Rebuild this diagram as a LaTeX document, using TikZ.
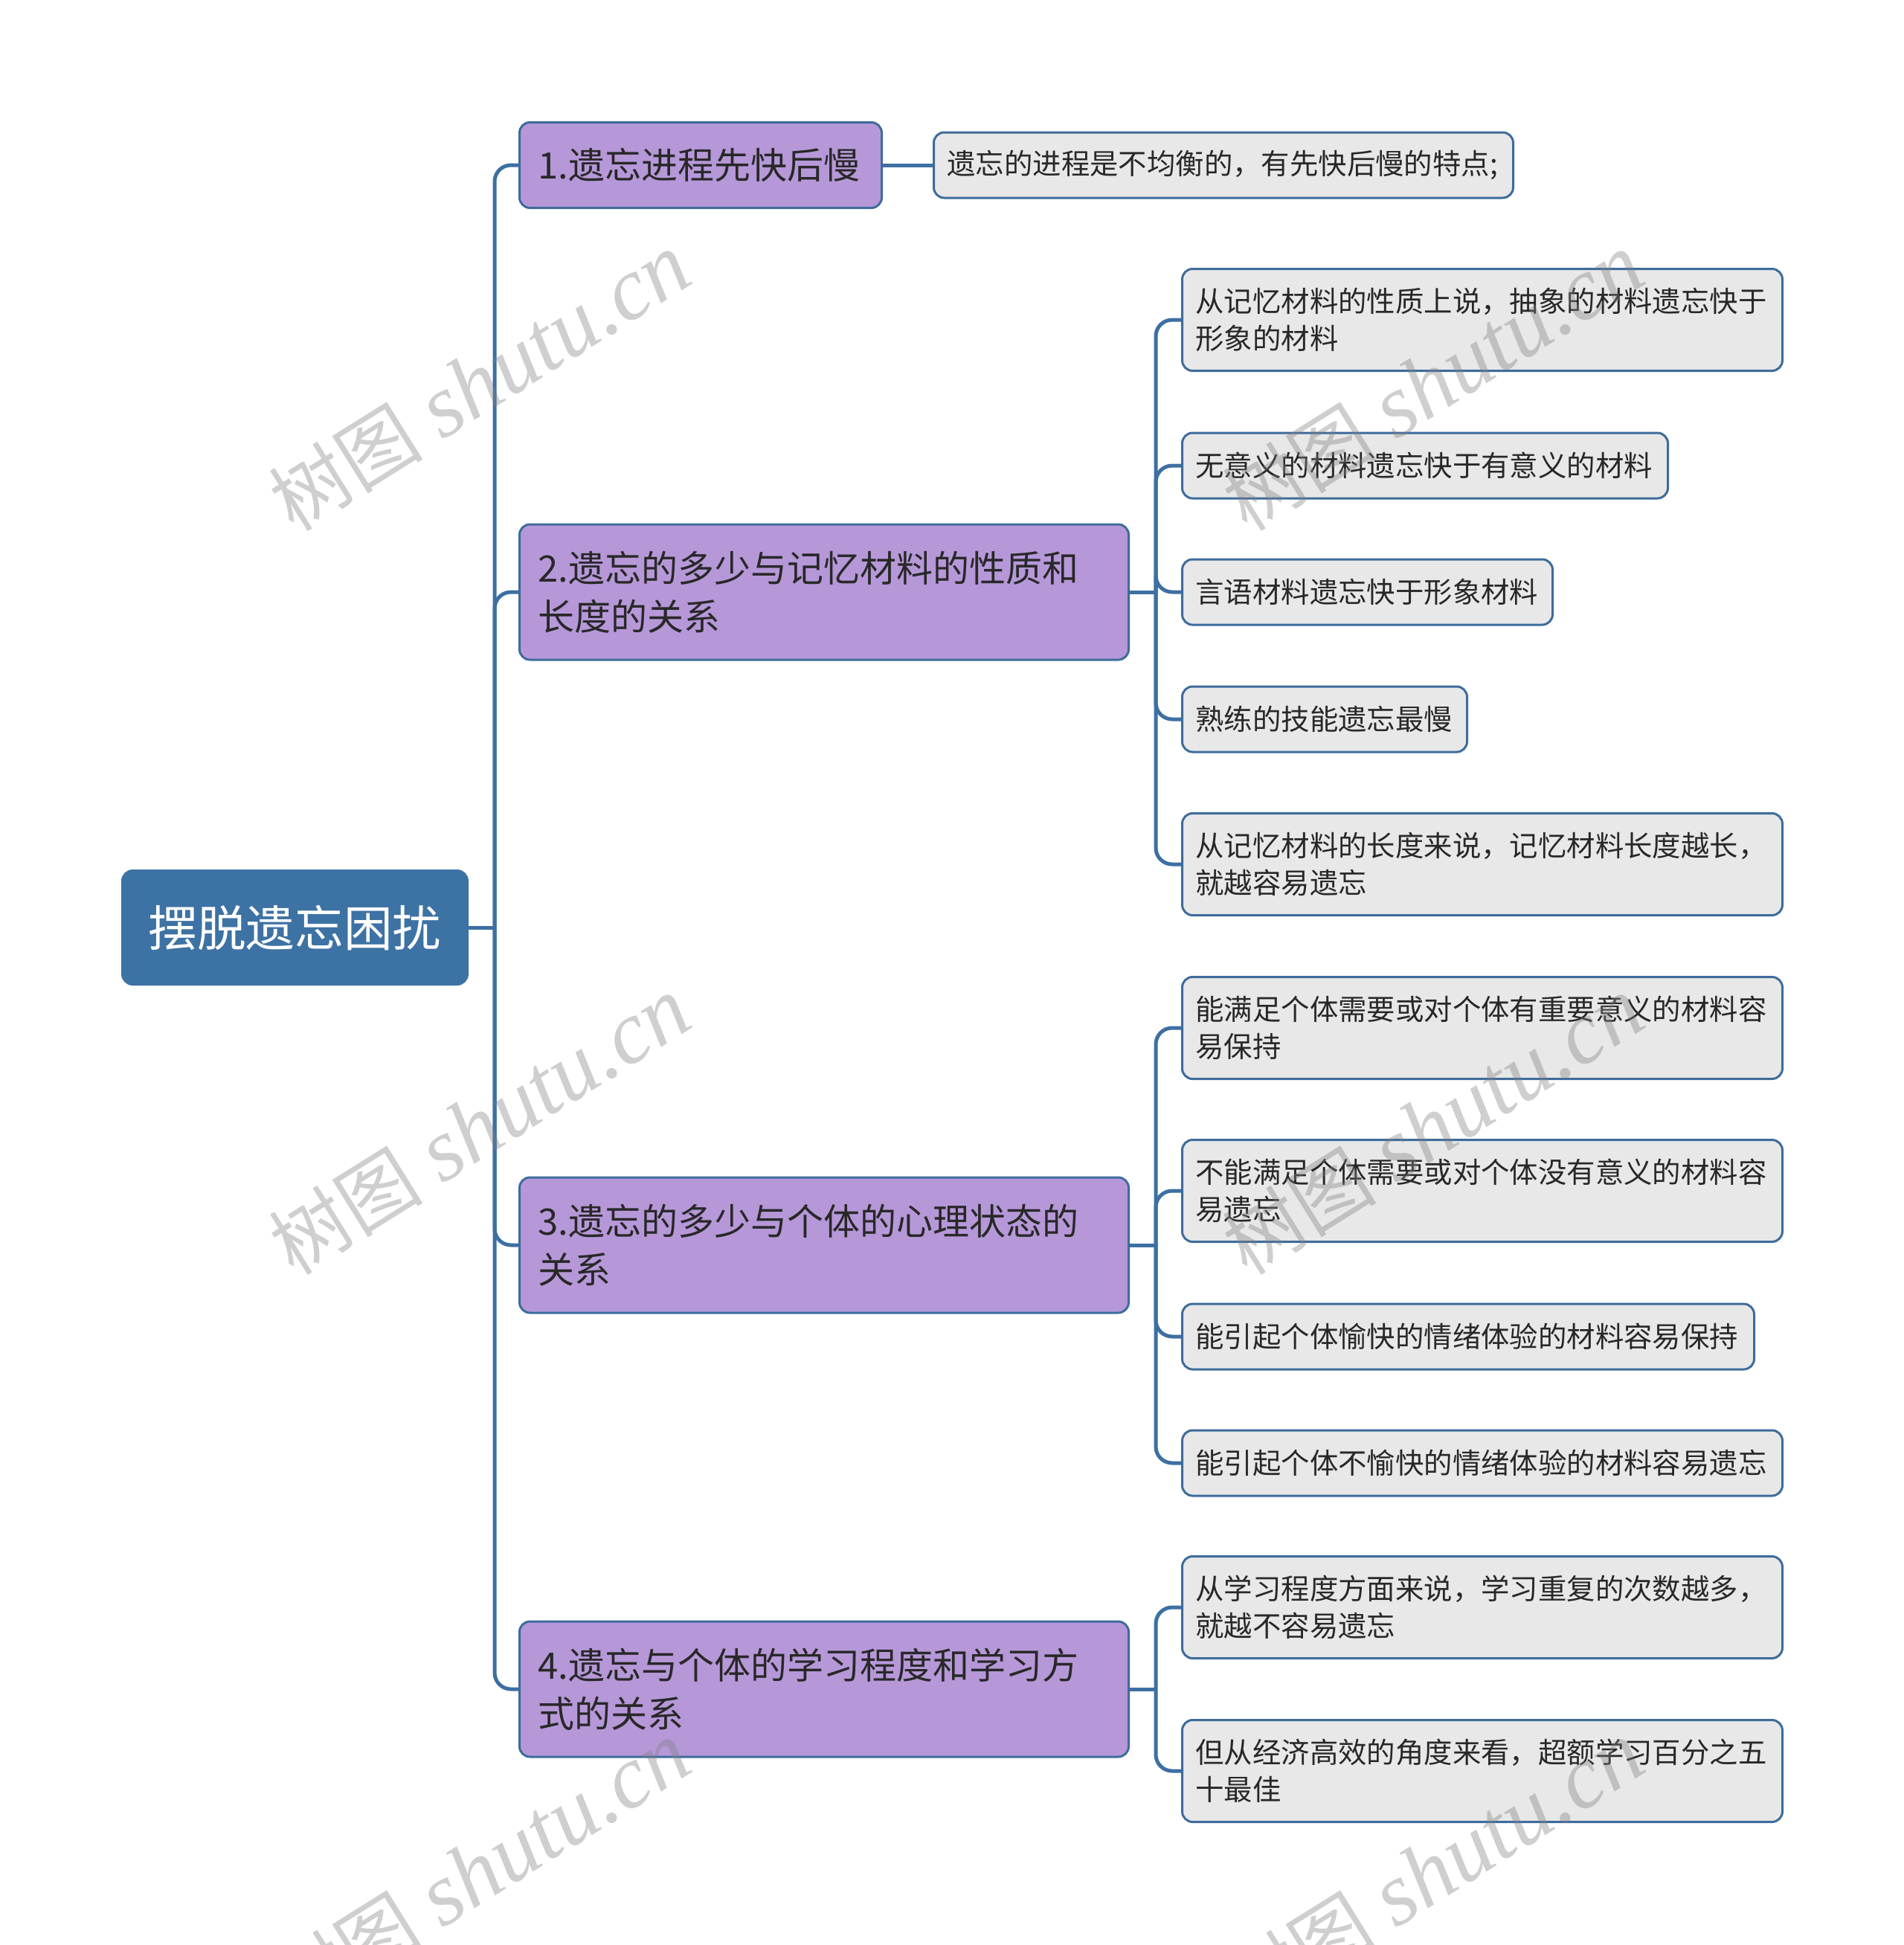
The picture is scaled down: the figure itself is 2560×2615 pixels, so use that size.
\documentclass[tikz,border=0pt]{standalone}
\usepackage{fontspec}
\setmainfont{Noto Sans CJK SC}
\newfontfamily\wmlatin{Liberation Serif}
\newfontfamily\wmcjk{Noto Sans CJK SC}
\definecolor{rootc}{RGB}{61,114,164}
\definecolor{linec}{RGB}{61,112,162}
\definecolor{bord}{RGB}{62,108,155}
\definecolor{purp}{RGB}{182,152,217}
\definecolor{leafc}{RGB}{232,232,232}
\definecolor{textc}{RGB}{40,40,40}
\newcommand{\wmtext}{{\wmcjk\fontsize{26}{30}\selectfont 树图} {\wmlatin\itshape shutu.cn}}
\begin{document}
\begin{tikzpicture}[x=0.25pt,y=-0.25pt,
  conn/.style={draw=linec, line width=1.25pt, rounded corners=5.5pt},
  rootbox/.style={fill=rootc, draw=rootc, line width=0.75pt, rounded corners=3.5pt, text=white,
    font=\fontsize{16.4}{20}\selectfont, minimum width=116pt, minimum height=38.25pt, inner sep=0pt},
  topicbox/.style={fill=purp, draw=bord, line width=0.75pt, rounded corners=3.5pt, text=textc,
    font=\fontsize{12.25}{16.25}\selectfont, align=left, inner xsep=6.25pt, inner ysep=0pt},
  leafbox/.style={fill=leafc, draw=bord, line width=0.75pt, rounded corners=3.5pt, text=textc,
    font=\fontsize{9.6}{12.5}\selectfont, align=left, inner xsep=4.5pt, inner ysep=0pt},
  wm/.style={rotate=32, text=gray, opacity=0.38, inner sep=0pt, font=\fontsize{30}{30}\selectfont}
]
\useasboundingbox (0,0) rectangle (2560,2615);

% root
\node[rootbox, anchor=west] (root) at (163,1247) {摆脱遗忘困扰};

% topics
\node[topicbox, text width=109.25pt, minimum height=28.75pt, anchor=west] (t1) at (697,222) {1.遗忘进程先快后慢};
\node[topicbox, text width=192.25pt, minimum height=45.5pt, anchor=west] (t2) at (697,796) {2.遗忘的多少与记忆材料的性质和\\长度的关系};
\node[topicbox, text width=192.25pt, minimum height=45.5pt, anchor=west] (t3) at (697,1674) {3.遗忘的多少与个体的心理状态的\\关系};
\node[topicbox, text width=192.25pt, minimum height=45.5pt, anchor=west] (t4) at (697,2271) {4.遗忘与个体的学习程度和学习方\\式的关系};

% leaves
\node[leafbox, text width=185.75pt, minimum height=22pt, anchor=west] (a1) at (1254,222) {遗忘的进程是不均衡的，有先快后慢的特点;};

\node[leafbox, text width=192.75pt, minimum height=34.25pt, anchor=west] (b1) at (1588,430) {从记忆材料的性质上说，抽象的材料遗忘快于\\形象的材料};
\node[leafbox, text width=154.25pt, minimum height=22pt, anchor=west] (b2) at (1588,626) {无意义的材料遗忘快于有意义的材料};
\node[leafbox, text width=115.5pt, minimum height=22pt, anchor=west] (b3) at (1588,796) {言语材料遗忘快于形象材料};
\node[leafbox, text width=86.75pt, minimum height=22pt, anchor=west] (b4) at (1588,967) {熟练的技能遗忘最慢};
\node[leafbox, text width=192.75pt, minimum height=34.25pt, anchor=west] (b5) at (1588,1162) {从记忆材料的长度来说，记忆材料长度越长，\\就越容易遗忘};

\node[leafbox, text width=192.75pt, minimum height=34.25pt, anchor=west] (c1) at (1588,1382) {能满足个体需要或对个体有重要意义的材料容\\易保持};
\node[leafbox, text width=192.75pt, minimum height=34.25pt, anchor=west] (c2) at (1588,1601) {不能满足个体需要或对个体没有意义的材料容\\易遗忘};
\node[leafbox, text width=183.25pt, minimum height=22pt, anchor=west] (c3) at (1588,1797) {能引起个体愉快的情绪体验的材料容易保持};
\node[leafbox, text width=192.75pt, minimum height=22pt, anchor=west] (c4) at (1588,1967) {能引起个体不愉快的情绪体验的材料容易遗忘};

\node[leafbox, text width=192.75pt, minimum height=34.25pt, anchor=west] (d1) at (1588,2161) {从学习程度方面来说，学习重复的次数越多，\\就越不容易遗忘};
\node[leafbox, text width=192.75pt, minimum height=34.25pt, anchor=west] (d2) at (1588,2381) {但从经济高效的角度来看，超额学习百分之五\\十最佳};

% connectors
\path (root.east) ++(35,0) coordinate (j0);
\draw[conn] (root.east) -- (j0);
\foreach \t in {t1,t2,t3,t4} \draw[conn] (j0) |- (\t.west);

\draw[conn] (t1.east) -- (a1.west);

\path (t2.east) ++(35,0) coordinate (j2);
\draw[conn] (t2.east) -- (j2);
\foreach \l in {b1,b2,b3,b4,b5} \draw[conn] (j2) |- (\l.west);

\path (t3.east) ++(35,0) coordinate (j3);
\draw[conn] (t3.east) -- (j3);
\foreach \l in {c1,c2,c3,c4} \draw[conn] (j3) |- (\l.west);

\path (t4.east) ++(35,0) coordinate (j4);
\draw[conn] (t4.east) -- (j4);
\foreach \l in {d1,d2} \draw[conn] (j4) |- (\l.west);

% watermarks
\node[wm] (w1) at (645,514) {\wmtext};
\node[wm] (w2) at (645,1514) {\wmtext};
\node[wm] (w3) at (645,2515) {\wmtext};
\node[wm] (w4) at (1927,514) {\wmtext};
\node[wm] (w5) at (1927,1514) {\wmtext};
\node[wm] (w6) at (1927,2515) {\wmtext};
\end{tikzpicture}
\end{document}
